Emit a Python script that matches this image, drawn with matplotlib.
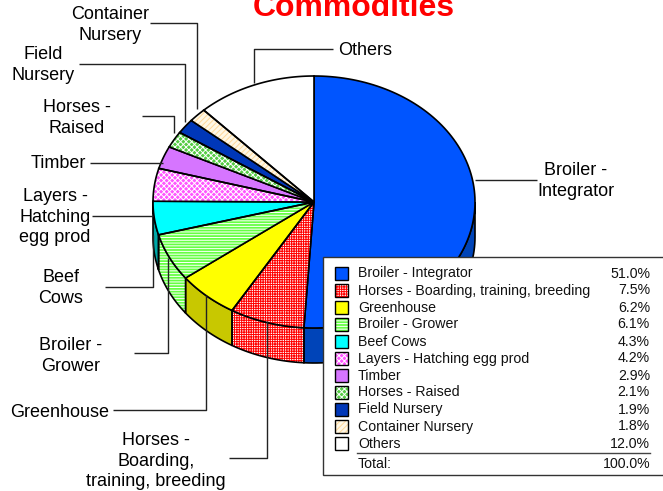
import numpy as np
import matplotlib
matplotlib.use('Agg')
import matplotlib.pyplot as plt
from matplotlib.patches import Polygon, Rectangle

categorias = ['Broiler - Integrator', 'Horses - Boarding, training, breeding', 'Greenhouse',
              'Broiler - Grower', 'Beef Cows', 'Layers - Hatching egg prod', 'Timber',
              'Horses - Raised', 'Field Nursery', 'Container Nursery', 'Others']
valores = [51.0, 7.5, 6.2, 6.1, 4.3, 4.2, 2.9, 2.1, 1.9, 1.8, 12.0]
rotulos_valor = ['51.0%', '7.5%', '6.2%', '6.1%', '4.3%', '4.2%', '2.9%', '2.1%', '1.9%', '1.8%', '12.0%']
total = '100.0%'

cores = ['#0055ff', '#ffffff', '#ffff00', '#66ff44', '#00ffff', '#ff55ff', '#d675ff', '#55cc44', '#0037b8', '#fff8e6', '#ffffff']
cores_lado = ['#0044b8', '#ffffff', '#c8c800', '#66ff44', '#00a8a8', '#ff55ff', '#a050d0', '#55cc44', '#002a90', '#e8e0c8', '#d0d0d0']
hachuras = [None, '+++++++', None, '------', None, 'xxxxxx', None, 'xxxxxx', None, '//////', None]
cores_hachura = [None, '#ff0000', None, '#ffffff', None, '#ffffff', None, '#ffffff', None, '#ffd898', None]

plt.rcParams['font.family'] = ['Liberation Sans', 'DejaVu Sans']
plt.rcParams['hatch.linewidth'] = 0.7

fig = plt.figure(figsize=(6.63, 4.91), dpi=100)
ax = fig.add_axes([0, 0, 1, 1])
ax.set_xlim(0, 663)
ax.set_ylim(491, 0)
ax.axis('off')

cx, cy, rx, ry, prof = 314, 202, 161, 126, 35


def ponto(ang):
    # angulo em graus, a partir do topo, sentido horario
    a = np.radians(ang)
    return cx + rx * np.sin(a), cy - ry * np.cos(a)


def preenche(xy, cor, hachura, cor_hachura, z, lw=1.2):
    if hachura:
        ax.add_patch(Polygon(xy, closed=True, facecolor=cor, edgecolor=cor_hachura, hatch=hachura, lw=0, zorder=z))
        ax.add_patch(Polygon(xy, closed=True, fill=False, edgecolor='black', lw=lw, zorder=z + 0.1))
    else:
        ax.add_patch(Polygon(xy, closed=True, facecolor=cor, edgecolor='black', lw=lw, zorder=z))


limites = np.concatenate([[0], np.cumsum(valores)]) / np.sum(valores) * 360

# lado do cilindro (so a metade de baixo aparece)
for i in range(len(valores)):
    a0, a1 = max(limites[i], 90), min(limites[i + 1], 270)
    if a1 <= a0:
        continue
    angs = np.linspace(a0, a1, 60)
    xs, ys = ponto(angs)
    xy = np.column_stack([np.r_[xs, xs[::-1]], np.r_[ys, ys[::-1] + prof]])
    preenche(xy, cores_lado[i], hachuras[i], cores_hachura[i], 2)

# topo da pizza
for i in range(len(valores)):
    angs = np.linspace(limites[i], limites[i + 1], 120)
    xs, ys = ponto(angs)
    xy = np.column_stack([np.r_[cx, xs], np.r_[cy, ys]])
    preenche(xy, cores[i], hachuras[i], cores_hachura[i], 3)

# linhas guia
guias = [
    ([254, 254, 333], [83, 49, 49]),
    ([475, 475, 537], [180, 180, 180]),
    ([197, 197, 150], [109, 23, 23]),
    ([185, 185, 79], [122, 64, 64]),
    ([174, 174, 142], [133, 116, 116]),
    ([163, 90], [163, 163]),
    ([153, 92], [216, 216]),
    ([153, 153, 105], [235, 287, 287]),
    ([168, 168, 134], [258, 353, 353]),
    ([206, 206, 113], [295, 410, 410]),
    ([267, 267, 229], [321, 458, 458]),
]
for gx, gy in guias:
    ax.plot(gx, gy, color='#222222', lw=1, zorder=4, solid_capstyle='butt')

ax.text(353.5, 16, 'Commodities', color='#ff0000', fontsize=23, fontweight='bold', ha='center', va='baseline', zorder=6)

fs = 13
textos = [
    (338, 50.5, 'Others', 'left'),
    (576, 181, 'Broiler -\nIntegrator', 'center'),
    (110, 25, 'Container\nNursery', 'center'),
    (43, 65, 'Field\nNursery', 'center'),
    (77, 118, 'Horses -\nRaised', 'center'),
    (58, 163.5, 'Timber', 'center'),
    (55, 217, 'Layers -\nHatching\negg prod', 'center'),
    (61, 288, 'Beef\nCows', 'center'),
    (71, 356, 'Broiler -\nGrower', 'center'),
    (60, 412.5, 'Greenhouse', 'center'),
    (156, 461, 'Horses -\nBoarding,\ntraining, breeding', 'center'),
]
for tx, ty, t, al in textos:
    ax.text(tx, ty, t, fontsize=fs, ha=al, va='center', multialignment='center', linespacing=1.28, color='black', zorder=6)

# legenda
ax.add_patch(Rectangle((322.5, 256.5), 345, 218.5, facecolor='white', edgecolor='#333333', lw=1, zorder=5))
for i, (nome, rot) in enumerate(zip(categorias, rotulos_valor)):
    y = 273.5 + i * 17
    if hachuras[i]:
        ax.add_patch(Rectangle((335, y - 6.5), 13, 13, facecolor=cores[i], edgecolor=cores_hachura[i], hatch=hachuras[i], lw=0, zorder=5.5))
        ax.add_patch(Rectangle((335, y - 6.5), 13, 13, fill=False, edgecolor='black', lw=1, zorder=5.6))
    else:
        ax.add_patch(Rectangle((335, y - 6.5), 13, 13, facecolor=cores[i], edgecolor='black', lw=1, zorder=5.5))
    ax.text(358, y, nome, fontsize=10.2, ha='left', va='center', color='#111111', zorder=6)
    ax.text(650, y, rot, fontsize=10.2, ha='right', va='center', color='#111111', zorder=6)
ax.plot([357, 650], [452.5, 452.5], color='#444444', lw=1, zorder=6)
ax.text(358, 463.5, 'Total:', fontsize=10.2, ha='left', va='center', color='#111111', zorder=6)
ax.text(650, 463.5, total, fontsize=10.2, ha='right', va='center', color='#111111', zorder=6)

fig.savefig('out.png', dpi=100)
